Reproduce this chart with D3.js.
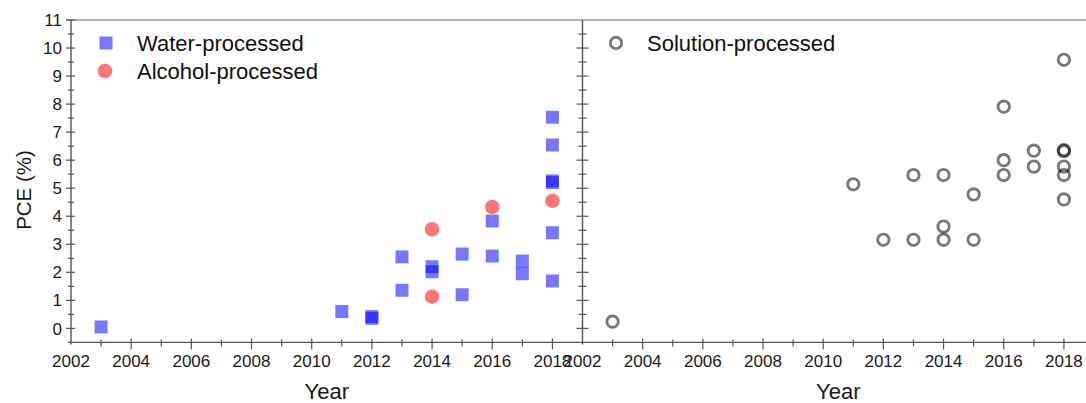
<!DOCTYPE html>
<html>
<head>
<meta charset="utf-8">
<script src="https://cdn.jsdelivr.net/npm/d3@7/dist/d3.min.js"></script>
<style>
  html, body { margin: 0; padding: 0; background: #fff; }
  svg { display: block; font-family: "Liberation Sans", Arial, sans-serif; }
</style>
</head>
<body>
<svg id="chart" width="1086" height="403"></svg>
<script>
// PCE (%) of devices by publication year
const waterYears  = [2003, 2011, 2012, 2012, 2013, 2013, 2014, 2014, 2015, 2015, 2016, 2016, 2017, 2017, 2018, 2018, 2018, 2018, 2018, 2018];
const waterPCE    = [0.05, 0.60, 0.36, 0.42, 2.55, 1.36, 2.20, 2.02, 2.65, 1.20, 3.83, 2.58, 2.40, 1.95, 7.53, 6.54, 5.20, 5.26, 3.41, 1.69];

const alcoholYears = [2014, 2014, 2016, 2018];
const alcoholPCE   = [3.53, 1.13, 4.33, 4.55];

const solutionYears = [2003, 2011, 2012, 2013, 2013, 2014, 2014, 2014, 2015, 2015, 2016, 2016, 2016, 2017, 2017, 2018, 2018, 2018, 2018, 2018, 2018];
const solutionPCE   = [0.24, 5.14, 3.16, 5.47, 3.16, 5.47, 3.63, 3.16, 4.78, 3.16, 7.91, 6.00, 5.47, 6.34, 5.77, 9.58, 6.32, 6.36, 5.77, 5.47, 4.60];

const yearTicks = [2002, 2004, 2006, 2008, 2010, 2012, 2014, 2016, 2018];
const pceTicks  = [0, 1, 2, 3, 4, 5, 6, 7, 8, 9, 10, 11];

const legendLeft  = ["Water-processed", "Alcohol-processed"];
const legendRight = ["Solution-processed"];

const svg = d3.select("#chart");
const axisColor = "#555";

const y = d3.scaleLinear().domain([-0.5, 11]).range([342.4, 20]);
const xL = d3.scaleLinear().domain([2002, 2019]).range([71, 582.5]);
const xR = d3.scaleLinear().domain([2002, 2019]).range([582.5, 1094]);

// top frame line
svg.append("line")
  .attr("x1", 66).attr("x2", 1086)
  .attr("y1", y(11)).attr("y2", y(11))
  .attr("stroke", "#999").attr("stroke-width", 1.6);

// bottom axis line
svg.append("line")
  .attr("x1", 68).attr("x2", 1086)
  .attr("y1", y(-0.5)).attr("y2", y(-0.5))
  .attr("stroke", axisColor).attr("stroke-width", 1.4);

// vertical axes: left panel and panel divider
[xL(2002), xR(2002)].forEach(function (xa) {
  svg.append("line")
    .attr("x1", xa).attr("x2", xa)
    .attr("y1", y(11)).attr("y2", y(-0.5) + 2)
    .attr("stroke", axisColor).attr("stroke-width", 1.4);
});

// y ticks (major at integers, minor at halves)
const majorY = d3.range(0, 11.01, 1);
const minorY = d3.range(0.5, 11, 1);
svg.append("g").selectAll("line.ymaj").data(majorY).join("line")
  .attr("x1", xL(2002) - 5).attr("x2", xL(2002) + 4)
  .attr("y1", d => y(d)).attr("y2", d => y(d))
  .attr("stroke", axisColor).attr("stroke-width", 1.2);
svg.append("g").selectAll("line.ymin").data(minorY).join("line")
  .attr("x1", xL(2002) - 3).attr("x2", xL(2002) + 3)
  .attr("y1", d => y(d)).attr("y2", d => y(d))
  .attr("stroke", axisColor).attr("stroke-width", 1.2);
svg.append("g").selectAll("line.dmaj").data(majorY.filter(d => d < 11)).join("line")
  .attr("x1", xR(2002) - 6).attr("x2", xR(2002) + 6)
  .attr("y1", d => y(d)).attr("y2", d => y(d))
  .attr("stroke", axisColor).attr("stroke-width", 1.2);
svg.append("g").selectAll("line.dmin").data(minorY).join("line")
  .attr("x1", xR(2002) - 4).attr("x2", xR(2002) + 4)
  .attr("y1", d => y(d)).attr("y2", d => y(d))
  .attr("stroke", axisColor).attr("stroke-width", 1.2);

// y tick labels
svg.append("g").selectAll("text").data(pceTicks).join("text")
  .attr("x", xL(2002) - 9).attr("y", d => y(d))
  .attr("dy", "0.36em")
  .attr("text-anchor", "end")
  .attr("font-size", 17).attr("fill", "#1a1a1a")
  .text(d => d);

// x ticks for both panels
[xL, xR].forEach(function (x) {
  const majors = d3.range(2002, 2019.5, 2);
  const minors = d3.range(2003, 2019, 2);
  svg.append("g").selectAll("line").data(majors.filter(d => d > 2002)).join("line")
    .attr("x1", d => x(d)).attr("x2", d => x(d))
    .attr("y1", y(-0.5) - 4).attr("y2", y(-0.5) + 7)
    .attr("stroke", axisColor).attr("stroke-width", 1.2);
  svg.append("g").selectAll("line").data(minors).join("line")
    .attr("x1", d => x(d)).attr("x2", d => x(d))
    .attr("y1", y(-0.5) - 3).attr("y2", y(-0.5) + 4)
    .attr("stroke", axisColor).attr("stroke-width", 1.2);
  svg.append("g").selectAll("text").data(yearTicks).join("text")
    .attr("x", d => x(d)).attr("y", 367)
    .attr("text-anchor", "middle")
    .attr("font-size", 17).attr("fill", "#1a1a1a")
    .text(d => d);
  svg.append("text")
    .attr("x", (x(2002) + x(2019)) / 2).attr("y", 399)
    .attr("text-anchor", "middle")
    .attr("font-size", 22).attr("fill", "#1a1a1a")
    .text("Year");
});

// y axis title
svg.append("text")
  .attr("transform", "translate(31," + 190 + ") rotate(-90)")
  .attr("text-anchor", "middle")
  .attr("font-size", 20.5).attr("fill", "#1a1a1a")
  .text("PCE (%)");

// Water-processed: translucent blue squares
const sq = 13;
svg.append("g").selectAll("rect").data(waterPCE).join("rect")
  .attr("x", (d, i) => xL(waterYears[i]) - sq / 2)
  .attr("y", d => y(d) - sq / 2)
  .attr("width", sq).attr("height", sq)
  .attr("fill", "#0000ff").attr("fill-opacity", 0.53);

// Alcohol-processed: translucent red circles
svg.append("g").selectAll("circle").data(alcoholPCE).join("circle")
  .attr("cx", (d, i) => xL(alcoholYears[i]))
  .attr("cy", d => y(d))
  .attr("r", 7.3)
  .attr("fill", "#ff0000").attr("fill-opacity", 0.53);

// Solution-processed: open gray rings
svg.append("g").selectAll("circle").data(solutionPCE).join("circle")
  .attr("cx", (d, i) => xR(solutionYears[i]))
  .attr("cy", d => y(d))
  .attr("r", 5.7)
  .attr("fill", "none")
  .attr("stroke", "#000").attr("stroke-opacity", 0.53)
  .attr("stroke-width", 2.9);

// legends
svg.append("rect")
  .attr("x", 106 - sq / 2).attr("y", 43 - sq / 2)
  .attr("width", sq).attr("height", sq)
  .attr("fill", "#0000ff").attr("fill-opacity", 0.53);
svg.append("circle")
  .attr("cx", 105).attr("cy", 71).attr("r", 7.3)
  .attr("fill", "#ff0000").attr("fill-opacity", 0.53);
svg.append("g").selectAll("text").data(legendLeft).join("text")
  .attr("x", 137).attr("y", (d, i) => 51 + i * 28)
  .attr("font-size", 22).attr("fill", "#111")
  .text(d => d);

svg.append("circle")
  .attr("cx", 616).attr("cy", 43).attr("r", 5.7)
  .attr("fill", "none")
  .attr("stroke", "#000").attr("stroke-opacity", 0.53)
  .attr("stroke-width", 2.9);
svg.append("g").selectAll("text").data(legendRight).join("text")
  .attr("x", 647).attr("y", 51)
  .attr("font-size", 22).attr("fill", "#111")
  .text(d => d);
</script>
</body>
</html>
